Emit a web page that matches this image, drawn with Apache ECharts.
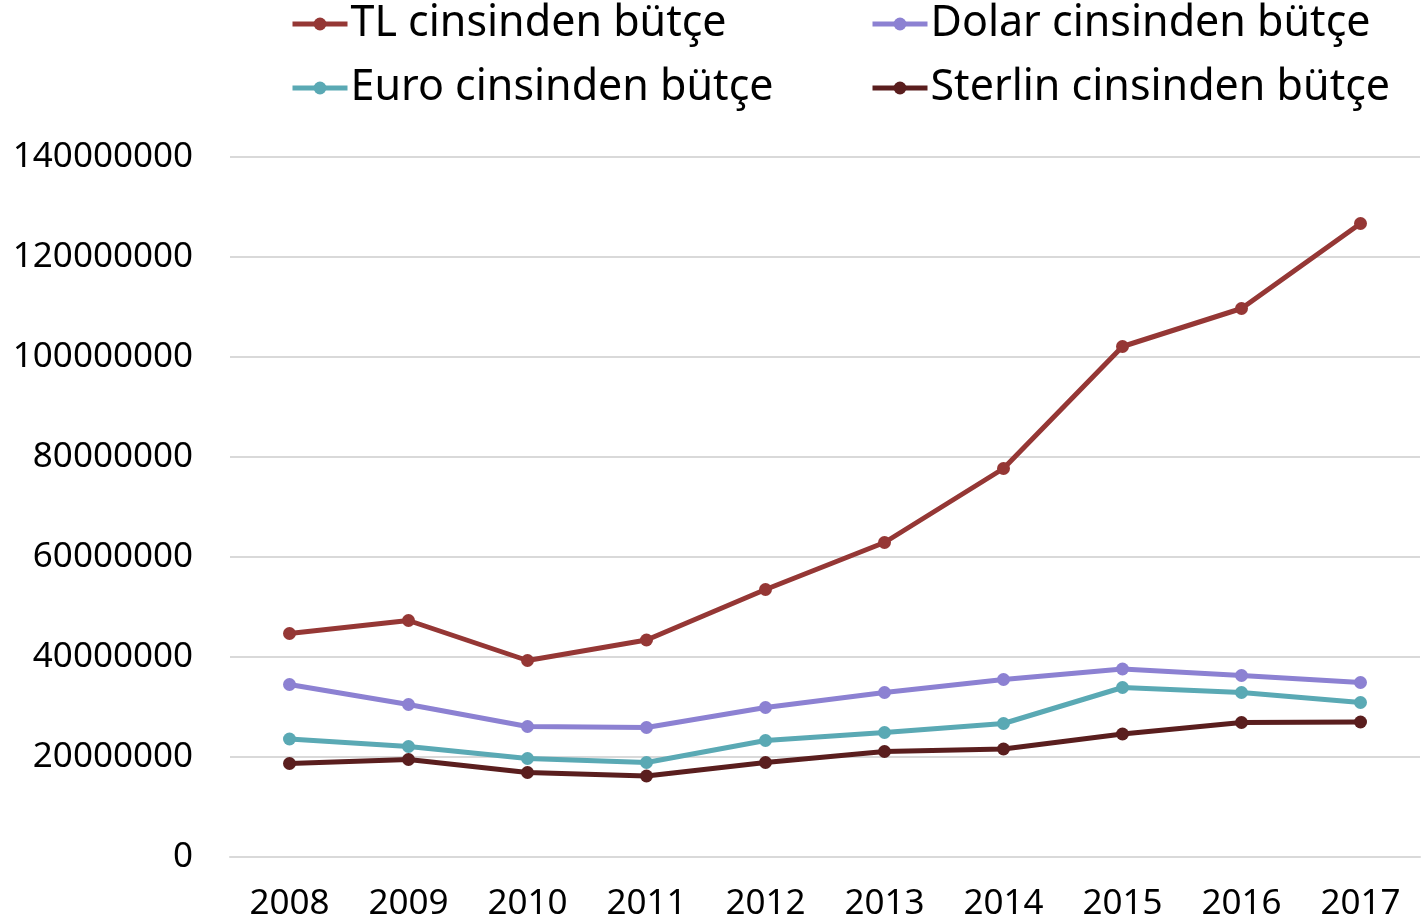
<!DOCTYPE html>
<html>
<head>
<meta charset="utf-8">
<script src="https://cdn.jsdelivr.net/npm/echarts@6/dist/echarts.min.js"></script>
<style>
html,body{margin:0;padding:0;background:#fff;}
#chart{width:1423px;height:924px;}
</style>
</head>
<body>
<div id="chart"></div>
<script>
const years = ['2008','2009','2010','2011','2012','2013','2014','2015','2016','2017'];
const tlBudget = [44700000, 47300000, 39300000, 43400000, 53500000, 62900000, 77700000, 102100000, 109700000, 126700000];
const dolarBudget = [34500000, 30500000, 26100000, 25900000, 29900000, 32900000, 35500000, 37600000, 36300000, 34900000];
const euroBudget = [23600000, 22100000, 19700000, 18900000, 23300000, 24900000, 26700000, 33900000, 32900000, 30900000];
const sterlinBudget = [18700000, 19500000, 16900000, 16200000, 18900000, 21100000, 21600000, 24600000, 26900000, 27000000];
const seriesNames = ['TL cinsinden bütçe', 'Dolar cinsinden bütçe', 'Euro cinsinden bütçe', 'Sterlin cinsinden bütçe'];
const seriesColors = ['#953735', '#8C81D2', '#5AA9B4', '#5A1E1E'];
const seriesData = [tlBudget, dolarBudget, euroBudget, sterlinBudget];

const FONT = 'Noto Sans';
const chart = echarts.init(document.getElementById('chart'));
const legendCommon = {
  orient: 'vertical',
  top: 2,
  padding: 0,
  itemWidth: 55,
  itemHeight: 16,
  itemGap: 20,
  lineStyle: { width: 5 },
  textStyle: { fontFamily: FONT, fontSize: 43, color: '#000', lineHeight: 44, padding: [0, 0, 0, -2] }
};
chart.setOption({
  animation: false,
  backgroundColor: '#fff',
  legend: [
    Object.assign({}, legendCommon, { left: 290, data: [seriesNames[0], seriesNames[2]] }),
    Object.assign({}, legendCommon, { left: 870, data: [seriesNames[1], seriesNames[3]] })
  ],
  grid: { left: 230, right: 3, top: 157, bottom: 67, containLabel: false },
  xAxis: {
    type: 'category',
    data: years,
    boundaryGap: true,
    axisLine: { show: true, lineStyle: { color: '#d9d9d9', width: 2 } },
    axisTick: { show: false },
    axisLabel: { fontFamily: FONT, fontSize: 35, color: '#000', margin: 30 }
  },
  yAxis: {
    type: 'value',
    min: 0,
    max: 140000000,
    interval: 20000000,
    axisLine: { show: false },
    axisTick: { show: false },
    splitLine: { lineStyle: { color: '#d9d9d9', width: 2 } },
    axisLabel: { fontFamily: FONT, fontSize: 35, color: '#000', margin: 37, formatter: v => String(v) }
  },
  series: seriesNames.map((n, i) => ({
    name: n,
    type: 'line',
    data: seriesData[i],
    symbol: 'circle',
    symbolSize: 13,
    lineStyle: { color: seriesColors[i], width: 5 },
    itemStyle: { color: seriesColors[i] },
    z: 10 - i
  }))
});
</script>
</body>
</html>
